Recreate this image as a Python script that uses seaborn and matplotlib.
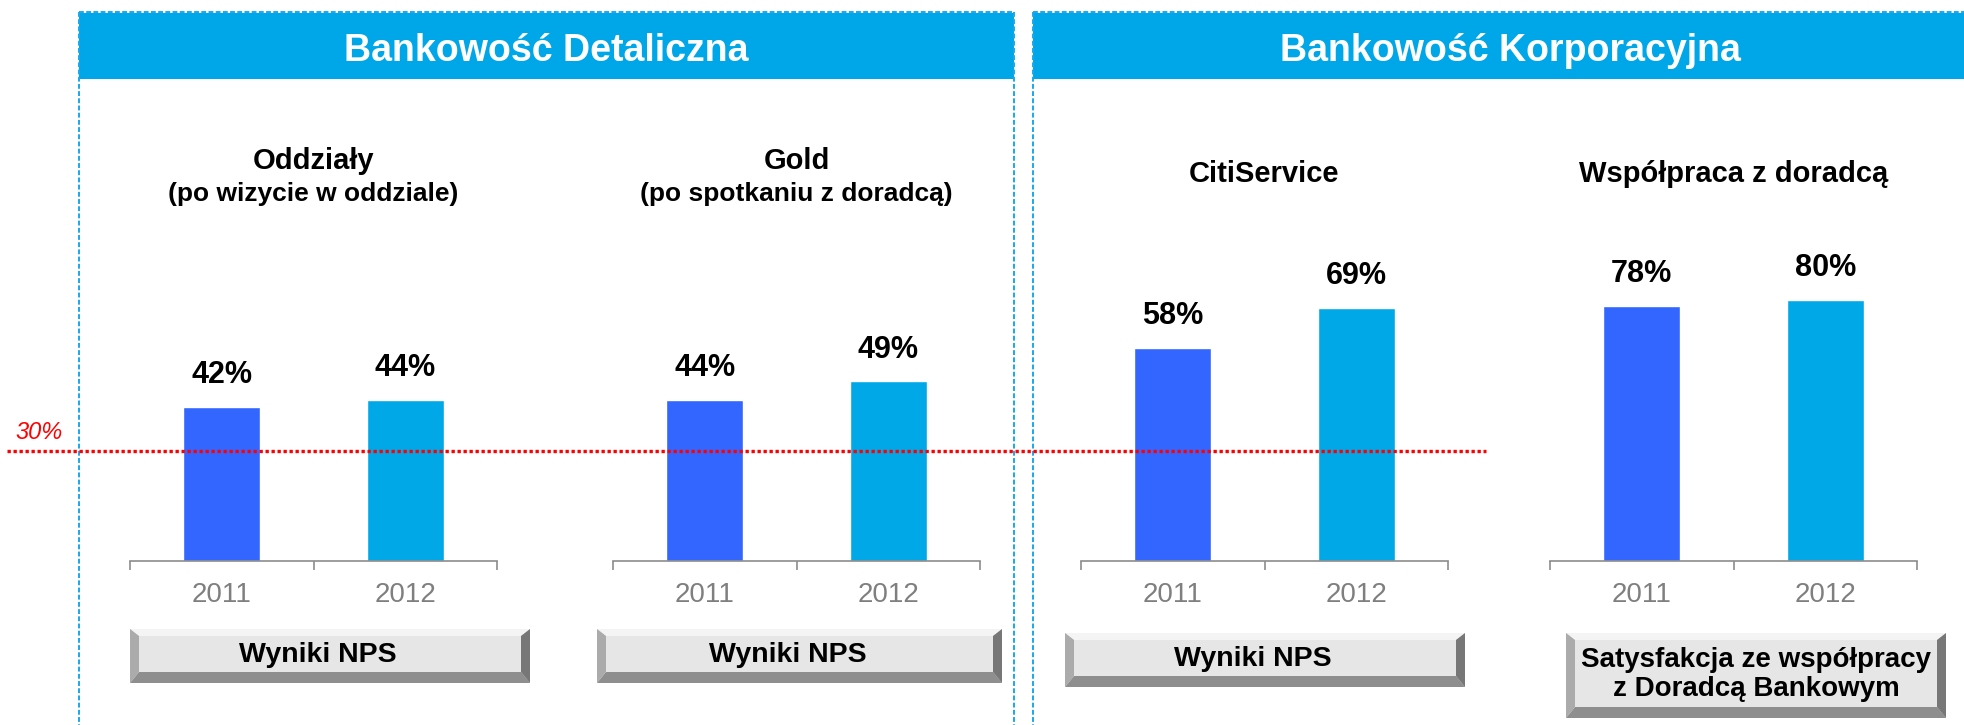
import matplotlib
matplotlib.use("Agg")
import matplotlib.pyplot as plt
import matplotlib.transforms as mtransforms
from matplotlib.patches import Rectangle, Polygon
import seaborn as sns

# --- data ---
years = ["2011", "2012"]
oddzialy = [42, 44]
gold = [44, 49]
citiservice = [58, 69]
wspolpraca = [78, 80]
nps_threshold = 30

sections = ["Bankowość Detaliczna", "Bankowość Korporacyjna"]
chart_titles = [("Oddziały", "(po wizycie w oddziale)"),
                ("Gold", "(po spotkaniu z doradcą)"),
                ("CitiService", None),
                ("Współpraca z doradcą", None)]
button_labels = ["Wyniki NPS", "Wyniki NPS", "Wyniki NPS",
                 "Satysfakcja ze współpracy\nz Doradcą Bankowym"]

BLUE = "#3366FF"
CYAN = "#00A8E8"
HEAD = "#00A7E8"
BORDER = "#1AA8EE"
GRAY = "#8C8C8C"

sns.set_style("white")
plt.rcParams["font.family"] = ["Liberation Sans", "DejaVu Sans"]
plt.rcParams["text.color"] = "black"

W, H = 1964, 725
fig = plt.figure(figsize=(W / 100, H / 100), dpi=100)


def px_axes(left, top, right, bottom, **kw):
    return fig.add_axes([left / W, 1 - bottom / H, (right - left) / W, (bottom - top) / H], **kw)


# --- bar panels ---
series = [oddzialy, gold, citiservice, wspolpraca]
lefts = [130, 613, 1081, 1550]
ytops = [100, 100, 100, 112.3]
axes = []
for vals, left, ytop, (t1, t2) in zip(series, lefts, ytops, chart_titles):
    ax = px_axes(left, 194, left + 367, 561)
    sns.barplot(x=years, y=vals, hue=years, palette=[BLUE, CYAN], width=0.42,
                saturation=1, legend=False, ax=ax)
    ax.set_xlim(-0.5, 1.5)
    ax.set_ylim(0, ytop)
    for c in ax.containers:
        ax.bar_label(c, fmt="%g%%", padding=12, fontsize=22, fontweight="bold", color="black")
    sns.despine(ax=ax, left=True)
    ax.spines["bottom"].set_color(GRAY)
    ax.spines["bottom"].set_linewidth(1.2)
    ax.set_yticks([])
    ax.set_ylabel("")
    ax.set_xticks([-0.5, 0.5, 1.5], minor=True)
    ax.tick_params(axis="x", which="major", length=0, pad=15, labelsize=20, labelcolor="#7F7F7F")
    ax.tick_params(axis="x", which="minor", length=6.5, width=1.2, color=GRAY, bottom=True)
    if t2:
        ax.text(0.5, 1.089, t1, transform=ax.transAxes, ha="center", va="center",
                fontsize=21, fontweight="bold")
        ax.text(0.5, 1.001, t2, transform=ax.transAxes, ha="center", va="center",
                fontsize=19, fontweight="bold")
    else:
        ax.text(0.5, 1.055, t1, transform=ax.transAxes, ha="center", va="center",
                fontsize=21, fontweight="bold")
    axes.append(ax)

# --- overlay in pixel coordinates ---
ov = fig.add_axes([0, 0, 1, 1], zorder=10)
ov.set_xlim(0, W)
ov.set_ylim(H, 0)
ov.axis("off")
ov.patch.set_alpha(0)

# section headers
ov.add_patch(Rectangle((79, 13), 1014 - 79, 66, color=HEAD, lw=0))
ov.add_patch(Rectangle((1033, 13), W - 1033 + 5, 66, color=HEAD, lw=0))
ov.text(546, 51, sections[0], ha="center", va="center", color="white",
        fontsize=27, fontweight="bold")
ov.text(1510, 51, sections[1], ha="center", va="center", color="white",
        fontsize=27, fontweight="bold")

dash = dict(color=BORDER, lw=1.4, ls=(0, (2.5, 1.2)))
ov.plot([79, 79], [12, H], **dash)
ov.plot([1014, 1014], [12, H], **dash)
ov.plot([79, 1014], [12, 12], **dash)
ov.plot([1033, 1033], [12, H], **dash)
ov.plot([1033, W], [12, 12], **dash)

# NPS threshold line, placed on the bar scale of the first panel
trans = mtransforms.blended_transform_factory(ov.transData, axes[0].transData)
ov.plot([7, 1486], [nps_threshold, nps_threshold], transform=trans, color="red",
        lw=2.4, ls=(0, (1, 0.8)), dash_capstyle="butt")
ov.annotate(f"{nps_threshold}%", xy=(15, nps_threshold), xycoords=trans,
            xytext=(0, 5), textcoords="offset points", color="red", fontsize=17,
            style="italic", ha="left", va="bottom")


# bevelled buttons
def bevel(x0, y0, x1, y1, label, t=7, b=11, s=9, fs=20, dx=0):
    ov.add_patch(Rectangle((x0, y0), x1 - x0, y1 - y0, fc="#E6E6E6", lw=0))
    ov.add_patch(Polygon([(x0, y0), (x1, y0), (x1 - s, y0 + t), (x0 + s, y0 + t)], fc="#F4F4F4", lw=0))
    ov.add_patch(Polygon([(x0, y1), (x1, y1), (x1 - s, y1 - b), (x0 + s, y1 - b)], fc="#8E8E8E", lw=0))
    ov.add_patch(Polygon([(x0, y0), (x0 + s, y0 + t), (x0 + s, y1 - b), (x0, y1)], fc="#ABABAB", lw=0))
    ov.add_patch(Polygon([(x1, y0), (x1 - s, y0 + t), (x1 - s, y1 - b), (x1, y1)], fc="#777777", lw=0))
    ov.text((x0 + x1) / 2 + dx, (y0 + y1) / 2 - 1, label, ha="center", va="center",
            fontsize=fs, fontweight="bold", linespacing=1.15)


boxes = [(130, 629, 530, 683), (597, 629, 1002, 683), (1065, 633, 1465, 687), (1566, 633, 1946, 718)]
shifts = [-12, -12, -12, 0]
for (x0, y0, x1, y1), lab, dx in zip(boxes, button_labels, shifts):
    bevel(x0, y0, x1, y1, lab, fs=20.5 if "\n" not in lab else 20, dx=dx)

fig.savefig("out.png", dpi=100)
